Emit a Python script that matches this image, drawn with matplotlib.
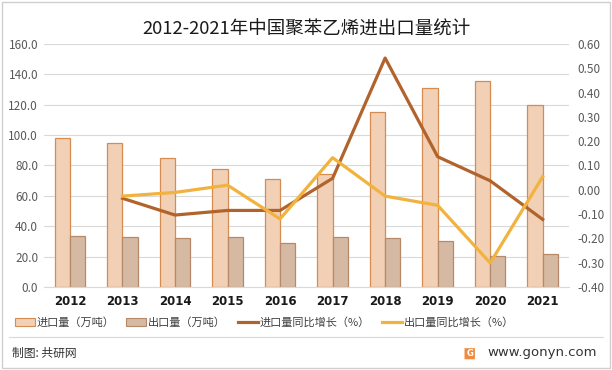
import matplotlib
matplotlib.use("Agg")
import matplotlib.pyplot as plt
import numpy as np
from matplotlib.patches import Patch, Rectangle, FancyBboxPatch
from matplotlib.lines import Line2D

plt.rcParams['font.family'] = ['Noto Sans CJK SC', 'DejaVu Sans']

# ---- 数据 ----
years = ["2012", "2013", "2014", "2015", "2016", "2017", "2018", "2019", "2020", "2021"]
import_vol = [98.1, 94.8, 84.9, 77.6, 71.0, 74.3, 115.3, 131.2, 135.8, 119.9]   # 万吨
export_vol = [33.3, 32.6, 32.0, 32.6, 28.7, 32.6, 32.0, 30.2, 20.7, 22.0]       # 万吨
import_yoy = [None, -0.035, -0.104, -0.085, -0.085, 0.047, 0.542, 0.136, 0.037, -0.122]
export_yoy = [None, -0.026, -0.011, 0.019, -0.120, 0.132, -0.026, -0.064, -0.301, 0.054]

left_ticks = [0, 20, 40, 60, 80, 100, 120, 140, 160]
right_ticks = [-0.4, -0.3, -0.2, -0.1, 0.0, 0.1, 0.2, 0.3, 0.4, 0.5, 0.6]

# ---- 颜色 ----
c_imp_face, c_imp_edge = "#F1D0B6", "#D48C52"
c_exp_face, c_exp_edge = "#D6B9A2", "#B5896A"
c_imp_line = "#B2632B"
c_exp_line = "#F2B23E"
grid_c = "#D9D9D9"
tick_c = "#595959"

fig = plt.figure(figsize=(6.12, 3.70), dpi=100)
ax = fig.add_axes([0.0714, 0.2243, 0.8583, 0.657])
ax2 = ax.twinx()

x = np.arange(len(years))
w = 0.29
ax.bar(x - w / 2, import_vol, w, color=c_imp_face, edgecolor=c_imp_edge, linewidth=0.9, zorder=2)
ax.bar(x + w / 2, export_vol, w, color=c_exp_face, edgecolor=c_exp_edge, linewidth=0.9, zorder=2)

xi = x[1:]
ax2.plot(xi, import_yoy[1:], color=c_imp_line, lw=2.3, zorder=3)
ax2.plot(xi, export_yoy[1:], color=c_exp_line, lw=2.3, zorder=4)

ax.set_xlim(-0.5, len(years) - 0.5)
ax.set_ylim(0, 160)
ax2.set_ylim(-0.4, 0.6)
ax.set_yticks(left_ticks)
ax.set_yticklabels([f"{v:.1f}" for v in left_ticks])
ax2.set_yticks(right_ticks)
ax2.set_yticklabels([f"{v:.2f}" for v in right_ticks])
ax.set_xticks(x)
ax.set_xticklabels(years, fontweight="bold", fontsize=8.5, color="#1a1a1a", family="DejaVu Sans")

ax.yaxis.grid(True, color=grid_c, lw=0.8, zorder=0)
ax.set_axisbelow(True)
for a in (ax, ax2):
    for s in a.spines.values():
        s.set_visible(False)
    a.tick_params(length=0)
ax.spines["bottom"].set_visible(True)
ax.spines["bottom"].set_color(grid_c)
ax.tick_params(axis="y", labelcolor=tick_c, labelsize=8.5, pad=4)
ax2.tick_params(axis="y", labelcolor=tick_c, labelsize=8.5, pad=6)
ax.tick_params(axis="x", pad=6)

fig.text(0.5, 0.921, "2012-2021年中国聚苯乙烯进出口量统计", ha="center", va="center",
         fontsize=13.3, color="#1a1a1a")

handles = [
    Patch(facecolor=c_imp_face, edgecolor=c_imp_edge, lw=0.8, label="进口量（万吨）"),
    Patch(facecolor=c_exp_face, edgecolor=c_exp_edge, lw=0.8, label="出口量（万吨）"),
    Line2D([], [], color=c_imp_line, lw=2.3, label="进口量同比增长（%）"),
    Line2D([], [], color=c_exp_line, lw=2.3, label="出口量同比增长（%）"),
]
fig.legend(handles=handles, loc="center left", bbox_to_anchor=(0.024, 0.128), ncol=4, frameon=False,
           fontsize=8, handlelength=1.8, handleheight=0.8, columnspacing=1.1, handletextpad=0.15,
           labelcolor="#404040", borderaxespad=0, borderpad=0)

# 分隔线与外框
fig.add_artist(Line2D([0.015, 0.985], [0.088, 0.088], color="#D9D9D9", lw=0.8))
fig.add_artist(Rectangle((0.004, 0.006), 0.992, 0.988, fill=False, edgecolor="#CFCFCF", lw=1.0))

fig.text(0.020, 0.045, "制图: 共研网", ha="left", va="center", fontsize=8.5, color="#333333")
fig.add_artist(FancyBboxPatch((0.760, 0.030), 0.015, 0.028, boxstyle="round,pad=0.001",
                              facecolor="#F08A3C", edgecolor="none"))
fig.text(0.7675, 0.044, "G", ha="center", va="center", fontsize=6, color="white", fontweight="bold",
         family="DejaVu Sans")
fig.text(0.797, 0.047, "www.gonyn.com", ha="left", va="center", fontsize=9.5, color="#333333",
         family="DejaVu Sans")

fig.savefig("out.png", dpi=100)
